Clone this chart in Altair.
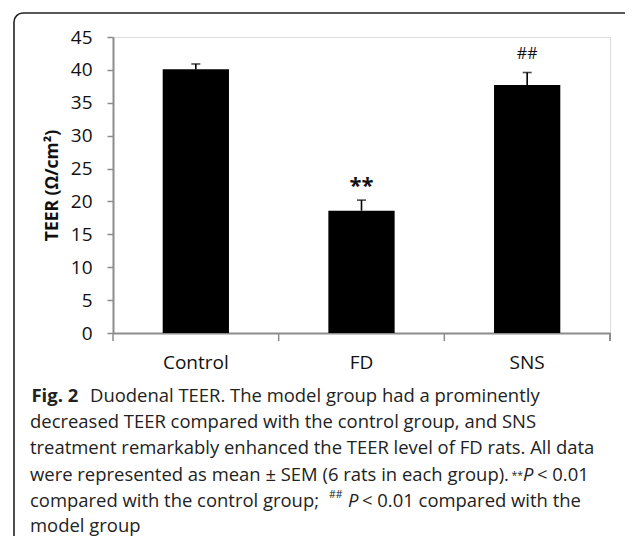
import altair as alt
import pandas as pd

groups = ["Control", "FD", "SNS"]
means = [40.1, 18.6, 37.7]
sems = [0.8, 1.6, 1.9]
marks = ["", "**", "##"]

y_ticks = [0, 5, 10, 15, 20, 25, 30, 35, 40, 45]

caption_lines = [
    "Duodenal TEER. The model group had a prominently",
    "decreased TEER compared with the control group, and SNS",
    "treatment remarkably enhanced the TEER level of FD rats. All data",
    "were represented as mean \u00b1 SEM (6 rats in each group).",
    "compared with the control group;",
    "model group",
]

df = pd.DataFrame({"group": groups, "mean": means, "sem": sems, "mark": marks})
df["top"] = df["mean"] + df["sem"]

W, H = 497, 296
FONT = "Open Sans"
GRAY = "#8c8c8c"

base = alt.Chart(df)

x_axis = alt.Axis(title=None, labelAngle=0, ticks=False, labelFont=FONT,
                  labelFontSize=19, labelColor="#111", labelPadding=20,
                  domainColor=GRAY, domainWidth=2)
x_scale = alt.Scale(paddingInner=0, paddingOuter=0)
y_axis = alt.Axis(values=y_ticks, title="TEER (\u03a9/cm\u00b2)", titleFont=FONT,
                  titleFontSize=17.5, titleFontWeight="bold", titleColor="#111",
                  titlePadding=9, labelFont=FONT, labelFontSize=19,
                  labelColor="#111", labelPadding=15, tickSize=6,
                  labelOverlap=False, labelBound=False,
                  tickColor=GRAY, tickWidth=1.5, domainColor=GRAY,
                  domainWidth=2, grid=False)
y_scale = alt.Scale(domain=[0, 45], nice=False)

def X(**kw):
    return alt.X("group:N", sort=groups, scale=x_scale, axis=x_axis, **kw)

def Y(field):
    return alt.Y(field, scale=y_scale, axis=y_axis)

bars = base.mark_bar(color="black", width=alt.RelativeBandSize(0.4)).encode(x=X(), y=Y("mean:Q"))

err = base.mark_rule(color="black", strokeWidth=1.6).encode(
    x=X(), y=Y("mean:Q"), y2="top:Q")
cap = base.mark_tick(color="black", thickness=1.6, size=9, orient="horizontal").encode(
    x=X(), y=Y("top:Q"))

star = base.transform_filter(alt.datum.group == "FD").mark_text(
    font=FONT, fontSize=22, fontWeight="bold", baseline="alphabetic", dy=-7, color="#111"
).encode(x=X(), y=Y("top:Q"), text="mark:N")
hash_ = base.transform_filter(alt.datum.group == "SNS").mark_text(
    font=FONT, fontSize=16, baseline="alphabetic", dy=-14, color="#111"
).encode(x=X(), y=Y("top:Q"), text="mark:N")

xticks = base.mark_rule(color=GRAY, strokeWidth=1.5).encode(
    x=X(bandPosition=0), y=alt.value(H), y2=alt.value(H + 8))
xtick_end = base.mark_rule(color=GRAY, strokeWidth=1.5).encode(
    x=alt.value(W), y=alt.value(H), y2=alt.value(H + 8))

# frame around figure + caption
frame = alt.Chart(pd.DataFrame({"a": [0]})).mark_rect(
    fill=None, stroke="#222", strokeWidth=1.6, cornerRadius=9
).encode(x=alt.value(-99), x2=alt.value(W + 30), y=alt.value(-24), y2=alt.value(H + 240))

cap_df = pd.DataFrame({"a": [0]})
OX, OY = 113, 37
TX = 30 - OX
BASES = [b - OY for b in [401.7, 428, 454.3, 480.5, 506.8, 531.5]]
CS = 18.45
def ctext(txt, x, yb, **kw):
    style = dict(font=FONT, fontSize=CS, align="left", baseline="alphabetic", color="#222")
    style.update(kw)
    return alt.Chart(cap_df).mark_text(**style).encode(
        x=alt.value(x), y=alt.value(yb), text=alt.value(txt))

caption = [
    ctext("Fig. 2", 31.5 - OX, BASES[0], fontWeight="bold"),
    ctext(caption_lines[0], 90 - OX, BASES[0]),
    ctext(caption_lines[1], TX, BASES[1]),
    ctext(caption_lines[2], TX, BASES[2]),
    ctext(caption_lines[3], TX, BASES[3]),
    ctext("**", 511.5 - OX, BASES[3] - 2, fontSize=10.5),
    ctext("P", 523 - OX, BASES[3], fontStyle="italic"),
    ctext("< 0.01", 537 - OX, BASES[3]),
    ctext(caption_lines[4], TX, BASES[4]),
    ctext("##", 329 - OX, BASES[4] - 8.5, fontSize=10.5),
    ctext("P", 348 - OX, BASES[4], fontStyle="italic"),
    ctext("< 0.01 compared with the", 362 - OX, BASES[4]),
    ctext(caption_lines[5], TX, BASES[5]),
]

chart = alt.layer(bars, frame, err, cap, star, hash_, xticks, xtick_end, *caption).properties(
    width=W, height=H,
    autosize=alt.AutoSizeParams(type="none"),
    padding={"left": 105, "top": 29, "right": 15, "bottom": 203},
).configure_view(stroke=None).configure(background="white")

chart.save("out.html", embed_options={"renderer": "svg", "actions": False})
